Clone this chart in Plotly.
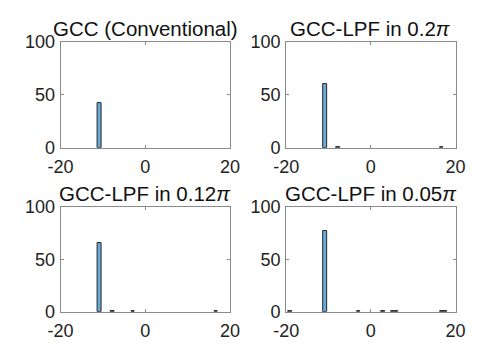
import plotly.graph_objects as go

# Histogram data (bin centers, counts) for each panel
titles = ["GCC (Conventional)", "GCC-LPF in 0.2<i>π</i>",
          "GCC-LPF in 0.12<i>π</i>", "GCC-LPF in 0.05<i>π</i>"]

x_conv = [-10.8]
y_conv = [42]

x_02 = [-10.8, -7.8, 16.7]
y_02 = [60, 1, 1]

x_012 = [-10.8, -7.8, -2.9, 16.7]
y_012 = [66, 1, 1, 1]

x_005 = [-19.0, -10.8, -2.9, 2.9, 5.3, 6.1, 16.7, 17.6]
y_005 = [1, 77, 1, 1, 1, 1, 1, 1]

x_ticks = [-20, 0, 20]
x_ticklabels = ["-20", "0", "20"]
y_ticks = [0, 50, 100]

panels = [(x_conv, y_conv), (x_02, y_02), (x_012, y_012), (x_005, y_005)]

W, H = 477, 349
xdoms = [[50 / W, 228 / W], [287 / W, 465 / W]]
ydoms = [[1 - 146 / H, 1 - 34 / H], [1 - 320 / H, 1 - 209 / H]]

FONT = "Liberation Sans, Arial, sans-serif"
fig = go.Figure()
layout = dict(width=W, height=H, margin=dict(l=0, r=0, t=0, b=0),
              plot_bgcolor="white", paper_bgcolor="white", showlegend=False,
              font=dict(family=FONT, color="#222", size=18), bargap=0)

annotations = []
for i, (xs, ys) in enumerate(panels):
    r, c = divmod(i, 2)
    n = "" if i == 0 else str(i + 1)
    fig.add_trace(go.Bar(x=xs, y=ys, width=0.9, xaxis="x" + n, yaxis="y" + n,
                         marker=dict(color="#66AAD7", line=dict(color="#2a2a2a", width=1))))
    axcommon = dict(showline=True, mirror="ticks", linecolor="#8a8a8a", linewidth=1,
                    showgrid=False, zeroline=False, ticks="inside", ticklen=3,
                    tickcolor="#8a8a8a", tickfont=dict(size=18, family=FONT, color="#222"))
    layout["xaxis" + n] = dict(domain=xdoms[c], range=[-20, 20], tickvals=x_ticks,
                               ticktext=x_ticklabels, ticklabelstandoff=3,
                               anchor="y" + n, **axcommon)
    layout["yaxis" + n] = dict(domain=ydoms[r], range=[0, 100], tickvals=y_ticks,
                               ticklabelstandoff=1, anchor="x" + n, **axcommon)
    annotations.append(dict(text=titles[i], xref="paper", yref="paper",
                            x=(xdoms[c][0] + xdoms[c][1]) / 2,
                            y=ydoms[r][1] + 14 / H, xanchor="center", yanchor="middle",
                            showarrow=False, font=dict(size=20.5, family=FONT, color="#111")))

layout["annotations"] = annotations
fig.update_layout(**layout)
fig.write_html("out.html")
